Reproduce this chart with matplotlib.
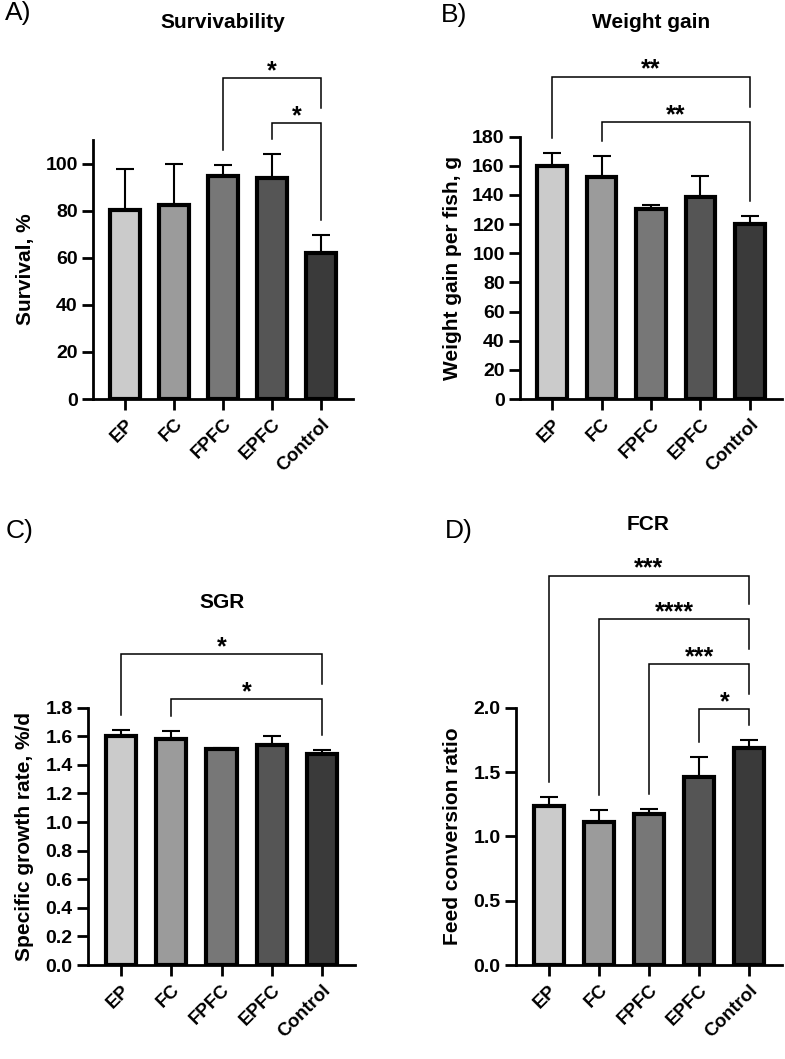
import matplotlib
matplotlib.use("Agg")
import matplotlib.pyplot as plt
import numpy as np

plt.rcParams['font.family'] = ['Liberation Sans', 'DejaVu Sans']
plt.rcParams['font.weight'] = 'bold'

# ---------------- data ----------------
groups = ['EP', 'FC', 'FPFC', 'EPFC', 'Control']
bar_colors = ['#cbcbcb', '#9b9b9b', '#777777', '#555555', '#3a3a3a']

surv_mean = [80.4, 82.6, 94.6, 93.9, 61.9]
surv_sd = [17.1, 17.3, 4.7, 10.2, 7.9]

wg_mean = [160.2, 152.6, 130.7, 138.9, 120.4]
wg_sd = [8.4, 14.0, 2.5, 14.2, 5.5]

sgr_mean = [1.601, 1.583, 1.510, 1.536, 1.478]
sgr_sd = [0.042, 0.051, 0.010, 0.065, 0.025]

fcr_mean = [1.236, 1.109, 1.171, 1.464, 1.689]
fcr_sd = [0.067, 0.096, 0.039, 0.155, 0.060]

surv_comp = [(2, 4, '*'), (3, 4, '*')]
wg_comp = [(0, 4, '**'), (1, 4, '**')]
sgr_comp = [(0, 4, '*'), (1, 4, '*')]
fcr_comp = [(0, 4, '***'), (1, 4, '****'), (2, 4, '***'), (3, 4, '*')]

# ---------------- layout ----------------
W, H = 785, 1059
fig = plt.figure(figsize=(W / 100, H / 100), dpi=100)

def px_axes(left, top, right, bottom):
    return [left / W, 1 - bottom / H, (right - left) / W, (bottom - top) / H]

panels = [
    dict(rect=px_axes(93, 140, 353, 399), mean=surv_mean, sd=surv_sd, comp=surv_comp,
         levels=[136.3, 117.2], ylim=110, ticks=np.arange(0, 101, 20), fmt='{:.0f}',
         ylabel='Survival, %', labx=-0.26, title='Survivability', title_px=(223, 23),
         tag='A)', tag_px=(18, 13)),
    dict(rect=px_axes(520, 136.7, 782, 399), mean=wg_mean, sd=wg_sd, comp=wg_comp,
         levels=[221.3, 189.9], ylim=180, ticks=np.arange(0, 181, 20), fmt='{:.0f}',
         ylabel='Weight gain per fish, g', labx=-0.256, title='Weight gain', title_px=(651, 23),
         tag='B)', tag_px=(454, 15)),
    dict(rect=px_axes(88, 707.7, 355, 965), mean=sgr_mean, sd=sgr_sd, comp=sgr_comp,
         levels=[2.173, 1.858], ylim=1.8, ticks=np.arange(0, 1.81, 0.2), fmt='{:.1f}',
         ylabel='Specific growth rate, %/d', labx=-0.236, title='SGR', title_px=(222, 602),
         tag='C)', tag_px=(20, 531)),
    dict(rect=px_axes(516, 707.7, 782, 965), mean=fcr_mean, sd=fcr_sd, comp=fcr_comp,
         levels=[3.026, 2.687, 2.337, 1.987], ylim=2.0, ticks=np.arange(0, 2.01, 0.5), fmt='{:.1f}',
         ylabel='Feed conversion ratio', labx=-0.24, title='FCR', title_px=(648, 524),
         tag='D)', tag_px=(459, 531)),
]

GAP_PX = 15

for p in panels:
    ax = fig.add_axes(p['rect'])
    x = np.arange(len(groups))
    mean = np.array(p['mean'])
    sd = np.array(p['sd'])
    ax.errorbar(x, mean, yerr=[np.zeros_like(sd), sd], fmt='none', ecolor='black',
                elinewidth=1.5, capsize=6.5, capthick=1.5, zorder=1)
    ax.bar(x, mean, width=0.6, color=bar_colors, edgecolor='black', linewidth=3, zorder=2)
    ax.set_xlim(-0.65, 4.65)
    ax.set_ylim(0, p['ylim'])
    ax.set_yticks(p['ticks'])
    ax.set_yticklabels([p['fmt'].format(t) for t in p['ticks']])
    ax.set_xticks(x)
    ax.set_xticklabels(groups, rotation=45, ha='right', va='top', rotation_mode='anchor')
    for s in ['top', 'right']:
        ax.spines[s].set_visible(False)
    for s in ['left', 'bottom']:
        ax.spines[s].set_linewidth(2)
    ax.tick_params(axis='y', length=8, width=2, labelsize=14, pad=3)
    ax.tick_params(axis='x', length=8, width=2, labelsize=13.5, pad=4)
    ax.set_ylabel(p['ylabel'], fontsize=15, fontweight='bold')
    ax.yaxis.label.set_verticalalignment('center')
    ax.yaxis.set_label_coords(p['labx'], 0.5)

    # significance brackets
    ax_h_px = p['rect'][3] * H
    gap = GAP_PX * p['ylim'] / ax_h_px
    levels = p['levels']
    for k, (i, j, lab) in enumerate(p['comp']):
        yb = levels[k]
        left_bot = mean[i] + sd[i] + gap
        if k + 1 < len(levels):
            right_bot = levels[k + 1] + gap
        else:
            right_bot = mean[j] + sd[j] + gap
        ax.plot([i, i, j, j], [left_bot, yb, yb, right_bot], color='black',
                linewidth=1.1, clip_on=False, solid_joinstyle='miter')
        ax.annotate(lab, xy=((i + j) / 2, yb), xytext=(0, 0), textcoords='offset points',
                    ha='center', va='baseline', fontsize=18, fontweight='bold',
                    annotation_clip=False)

    fig.text(p['title_px'][0] / W, 1 - p['title_px'][1] / H, p['title'],
             ha='center', va='center', fontsize=15, fontweight='bold')
    fig.text(p['tag_px'][0] / W, 1 - p['tag_px'][1] / H, p['tag'],
             ha='center', va='center', fontsize=19, fontweight='normal')

fig.savefig('out.png', dpi=100)
